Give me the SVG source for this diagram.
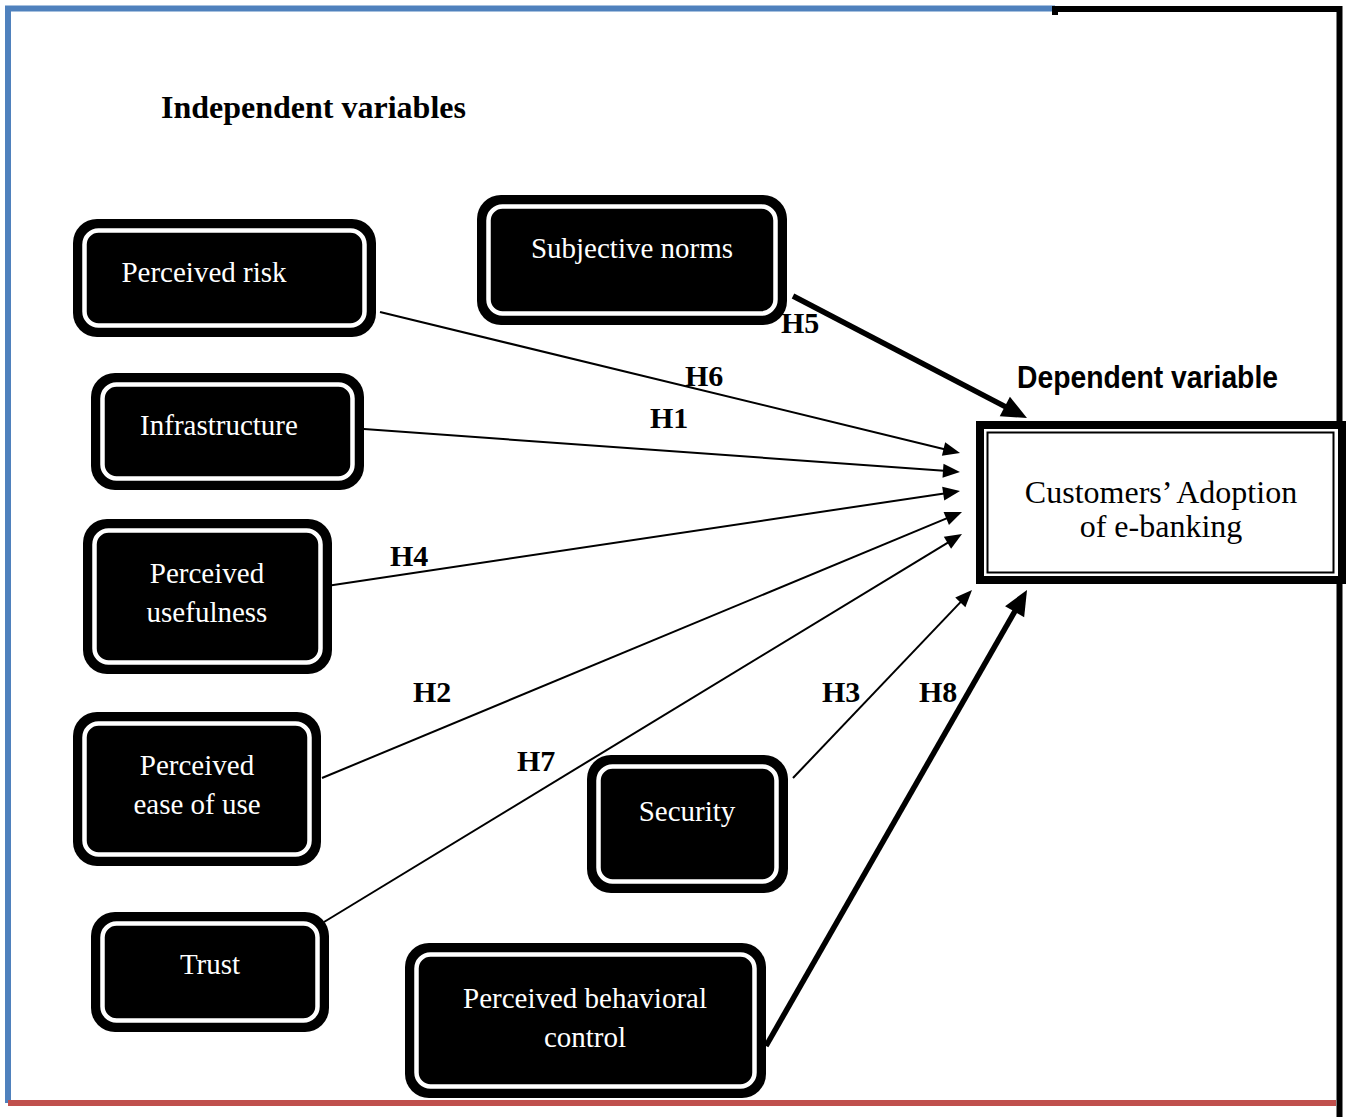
<svg xmlns="http://www.w3.org/2000/svg" width="1350" height="1117" viewBox="0 0 1350 1117">
  <style>
    .outer { fill: #000; }
    .ring { fill: none; stroke: #fff; stroke-width: 4.5; }
    .lbl { font-family: "Liberation Serif", "Times New Roman", serif; font-size: 29px; fill: #fff; text-anchor: middle; }
    .dep { font-family: "Liberation Serif", "Times New Roman", serif; font-size: 32px; fill: #000; text-anchor: middle; }
    .hyp { font-family: "Liberation Serif", "Times New Roman", serif; font-size: 30px; font-weight: bold; fill: #000; }
    .thin { stroke: #000; stroke-width: 2; fill: none; marker-end: url(#headThin); }
    .thick { stroke: #000; stroke-width: 5.5; fill: none; marker-end: url(#headThick); }
  </style>
  <defs>
    <marker id="headThin" markerUnits="userSpaceOnUse" markerWidth="17" markerHeight="14" refX="1" refY="7" orient="auto" overflow="visible">
      <path d="M0,0 L17,7 L0,14 z" fill="#000"/>
    </marker>
    <marker id="headThick" markerUnits="userSpaceOnUse" markerWidth="25" markerHeight="22" refX="1" refY="11" orient="auto" overflow="visible">
      <path d="M0,0 L25,11 L0,22 z" fill="#000"/>
    </marker>
  </defs>

  <rect width="1350" height="1117" fill="#fff"/>

  <!-- page frame -->
  <g id="frame" fill="none" stroke-width="6">
    <path d="M8,1103 V8.5 H1055" stroke="#4f81bd"/>
    <path d="M1053,9 H1339.5 V1117" stroke="#000"/>
    <rect x="1052" y="6" width="6" height="9" fill="#000" stroke="none"/>
    <path d="M8,1103 H1336" stroke="#c0504d"/>
  </g>

  <!-- headings -->
  <text x="161" y="118" font-family="Liberation Serif, Times New Roman, serif" font-size="32" font-weight="bold" fill="#000">Independent variables</text>
  <text x="1017" y="388" font-family="Liberation Sans Narrow, Liberation Sans, Arial, sans-serif" font-size="31" font-weight="bold" fill="#000" textLength="261" lengthAdjust="spacingAndGlyphs">Dependent variable</text>

  <!-- connectors -->
  <g id="connectors">
    <line class="thin" x1="380" y1="312" x2="944.5" y2="449.2"/>
    <line class="thin" x1="350" y1="428" x2="944" y2="470.8"/>
    <line class="thin" x1="320" y1="587" x2="944.2" y2="493.4"/>
    <line class="thin" x1="322" y1="778" x2="947.2" y2="518.1"/>
    <line class="thin" x1="324" y1="922" x2="948.3" y2="542.3"/>
    <line class="thin" x1="793" y1="778" x2="961" y2="601.6"/>
    <line class="thick" x1="793" y1="296" x2="1005.7" y2="406.9"/>
    <line class="thick" x1="766" y1="1046" x2="1015.1" y2="610.8"/>
  </g>

  <!-- hypothesis labels -->
  <g id="labels">
    <text class="hyp" x="781" y="333">H5</text>
    <text class="hyp" x="685" y="386">H6</text>
    <text class="hyp" x="650" y="428">H1</text>
    <text class="hyp" x="390" y="566">H4</text>
    <text class="hyp" x="413" y="702">H2</text>
    <text class="hyp" x="517" y="771">H7</text>
    <text class="hyp" x="822" y="702">H3</text>
    <text class="hyp" x="919" y="702">H8</text>
  </g>

  <!-- independent variables -->
  <g id="perceived-risk">
    <rect class="outer" x="73" y="219" width="303" height="118" rx="24"/>
    <rect class="ring" x="84.5" y="230.5" width="280" height="95" rx="14"/>
    <text class="lbl" x="204" y="282">Perceived risk</text>
  </g>
  <g id="subjective-norms">
    <rect class="outer" x="477" y="195" width="310" height="130" rx="24"/>
    <rect class="ring" x="488.5" y="206.5" width="287" height="107" rx="14"/>
    <text class="lbl" x="632" y="258">Subjective norms</text>
  </g>
  <g id="infrastructure">
    <rect class="outer" x="91" y="373" width="273" height="117" rx="24"/>
    <rect class="ring" x="102.5" y="384.5" width="250" height="94" rx="14"/>
    <text class="lbl" x="219" y="435">Infrastructure</text>
  </g>
  <g id="perceived-usefulness">
    <rect class="outer" x="83" y="519" width="249" height="155" rx="24"/>
    <rect class="ring" x="94.5" y="530.5" width="226" height="132" rx="14"/>
    <text class="lbl" x="207" y="583">Perceived</text>
    <text class="lbl" x="207" y="622">usefulness</text>
  </g>
  <g id="perceived-ease-of-use">
    <rect class="outer" x="73" y="712" width="248" height="154" rx="24"/>
    <rect class="ring" x="84.5" y="723.5" width="225" height="131" rx="14"/>
    <text class="lbl" x="197" y="775">Perceived</text>
    <text class="lbl" x="197" y="814">ease of use</text>
  </g>
  <g id="trust">
    <rect class="outer" x="91" y="912" width="238" height="120" rx="24"/>
    <rect class="ring" x="102.5" y="923.5" width="215" height="97" rx="14"/>
    <text class="lbl" x="210" y="974">Trust</text>
  </g>
  <g id="security">
    <rect class="outer" x="587" y="755" width="201" height="138" rx="24"/>
    <rect class="ring" x="598.5" y="766.5" width="178" height="115" rx="14"/>
    <text class="lbl" x="687" y="821">Security</text>
  </g>
  <g id="perceived-behavioral-control">
    <rect class="outer" x="405" y="943" width="361" height="155" rx="24"/>
    <rect class="ring" x="416.5" y="954.5" width="338" height="132" rx="14"/>
    <text class="lbl" x="585" y="1008">Perceived behavioral</text>
    <text class="lbl" x="585" y="1047">control</text>
  </g>

  <!-- dependent variable -->
  <g id="adoption">
    <rect x="980" y="425" width="362" height="155" fill="#fff" stroke="#000" stroke-width="8"/>
    <rect x="987.5" y="432.5" width="346" height="140" fill="none" stroke="#000" stroke-width="2"/>
    <text class="dep" x="1161" y="503">Customers’ Adoption</text>
    <text class="dep" x="1161" y="537">of e-banking</text>
  </g>
</svg>
